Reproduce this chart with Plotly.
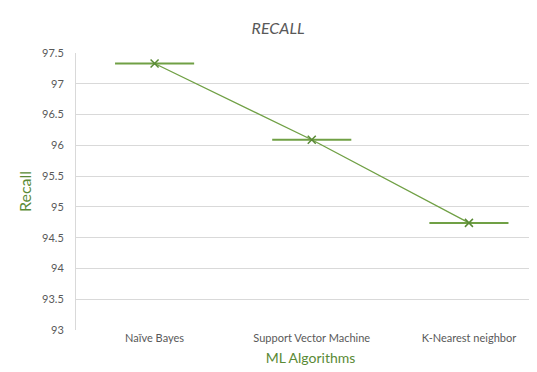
import plotly.graph_objects as go

categories = ["Naïve Bayes", "Support Vector Machine", "K-Nearest neighbor"]
recall = [97.33, 96.09, 94.74]
y_ticks = [93, 93.5, 94, 94.5, 95, 95.5, 96, 96.5, 97, 97.5]
y_tick_labels = ["93", "93.5", "94", "94.5", "95", "95.5", "96", "96.5", "97", "97.5"]

GREEN = "#70a045"
DARK_GREEN = "#5a8a36"
GRAY = "#595959"
FONT = "Lato, 'Open Sans', sans-serif"

fig = go.Figure()
# horizontal bars at each point
fig.add_trace(go.Scatter(
    x=categories, y=recall, mode="markers",
    marker=dict(symbol="line-ew", size=56.5, line=dict(color=GREEN, width=2)),
    hoverinfo="skip", showlegend=False,
))
# connecting line with x markers
fig.add_trace(go.Scatter(
    x=categories, y=recall, mode="lines+markers",
    line=dict(color=GREEN, width=1.3),
    marker=dict(symbol="x-thin", size=8, line=dict(color=DARK_GREEN, width=1.5)),
    showlegend=False,
))

fig.update_layout(
    width=537, height=372,
    margin=dict(l=68, r=0, t=44.5, b=50.3),
    paper_bgcolor="white", plot_bgcolor="white",
    font=dict(family=FONT, color=GRAY, size=11),
    title=dict(text="<i>RECALL</i>", x=0.503, xanchor="center", y=0.945, yanchor="middle",
               font=dict(size=16, color=GRAY, family=FONT)),
    xaxis=dict(
        type="category", range=[-0.5, 2.484],
        showgrid=False, zeroline=False, showline=False, ticks="",
        tickfont=dict(size=11, color=GRAY),
        title=dict(text="ML Algorithms", font=dict(size=14, color=DARK_GREEN), standoff=10),
        automargin=False,
    ),
    yaxis=dict(
        range=[93, 97.5], tickvals=y_ticks, ticktext=y_tick_labels,
        showgrid=True, gridcolor="#d9d9d9", gridwidth=1,
        zeroline=False, showline=True, linecolor="#d9d9d9", linewidth=1,
        ticks="", ticklabelstandoff=9,
        tickfont=dict(size=11, color=GRAY),
        title=dict(text="Recall", font=dict(size=16, color=DARK_GREEN), standoff=6),
        automargin=False,
    ),
)

fig.write_html("out.html")
